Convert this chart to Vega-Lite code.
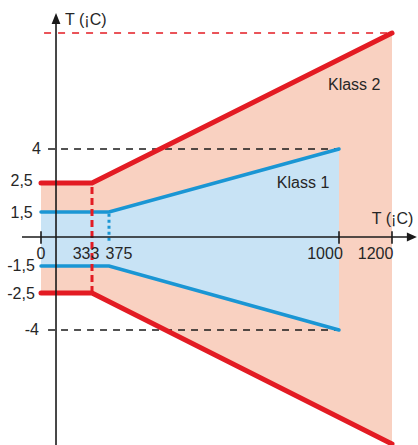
{
  "$schema": "https://vega.github.io/schema/vega-lite/v6.json",
  "width": 418,
  "height": 445,
  "autosize": {"type": "none"},
  "padding": 0,
  "background": "white",
  "config": {"view": {"stroke": null}},
  "datasets": {
    "bands": [
      {"cls": "Klass 2", "T": 0, "hi": 2.5, "lo": -2.5},
      {"cls": "Klass 2", "T": 333, "hi": 2.5, "lo": -2.5},
      {"cls": "Klass 2", "T": 1200, "hi": 9, "lo": -9},
      {"cls": "Klass 1", "T": 0, "hi": 1.5, "lo": -1.5},
      {"cls": "Klass 1", "T": 375, "hi": 1.5, "lo": -1.5},
      {"cls": "Klass 1", "T": 1000, "hi": 4, "lo": -4}
    ],
    "dash4": [{"T": 46, "T2": 1000, "v": 4}, {"T": 46, "T2": 1000, "v": -4}],
    "dash9": [{"T": 20, "T2": 1192, "v": 9}],
    "vred": [{"T": 333, "v": -2.5, "v2": 2.5}],
    "vblue": [{"T": 375, "v": -0.2, "v2": 1.5}],
    "axisH": [{"T": -120, "T2": 1262, "v": 0}],
    "axisV": [{"T": 98, "v": -10, "v2": 9.5}],
    "ticks": [
      {"T": 0, "v": -0.35, "v2": 0.35},
      {"T": 1000, "v": -0.35, "v2": 0.35},
      {"T": 1200, "v": -0.35, "v2": 0.35}
    ],
    "arrowUp": [{"T": 98, "v": 9.63}],
    "arrowRight": [{"T": 1275, "v": 0}],
    "ylabels": [
      {"text": "4", "T": 0, "v": 4},
      {"text": "2,5", "T": -52, "v": 2.6},
      {"text": "1,5", "T": -52, "v": 1.45},
      {"text": "-1,5", "T": -39, "v": -1.5},
      {"text": "-2,5", "T": -39, "v": -2.55},
      {"text": "-4", "T": -13, "v": -4}
    ],
    "xlabels": [
      {"text": "0", "T": 0, "v": -1.14},
      {"text": "333", "T": 294, "v": -1.14},
      {"text": "375", "T": 402, "v": -1.14},
      {"text": "1000", "T": 962, "v": -1.14},
      {"text": "1200", "T": 1138, "v": -1.14}
    ],
    "notes": [
      {"text": "T (¡C)", "T": 157, "v": 9.35},
      {"text": "T (¡C)", "T": 1124, "v": 0.78},
      {"text": "Klass 1", "T": 831, "v": 2.33},
      {"text": "Klass 2", "T": 970, "v": 6.54}
    ]
  },
  "encoding": {
    "x": {
      "field": "T",
      "type": "quantitative",
      "axis": null,
      "scale": {
        "type": "linear",
        "domain": [-120, 0, 333, 375, 1000, 1200, 1300],
        "range": [22, 41, 92, 109, 339, 392, 418.5],
        "nice": false,
        "zero": false
      }
    },
    "y": {
      "field": "v",
      "type": "quantitative",
      "axis": null,
      "scale": {
        "type": "linear",
        "domain": [-10, -9, -4, -2.5, -1.5, 0, 1.5, 2.5, 4, 9, 10],
        "range": [467, 444, 330, 293, 266, 237, 212, 183, 149, 33, 10],
        "nice": false,
        "zero": false
      }
    }
  },
  "layer": [
    {
      "data": {"name": "bands"},
      "transform": [{"filter": "datum.cls === 'Klass 2'"}],
      "mark": {"type": "area", "color": "#F9D1C1", "opacity": 1},
      "encoding": {"y": {"field": "hi", "type": "quantitative"}, "y2": {"field": "lo"}}
    },
    {
      "data": {"name": "bands"},
      "transform": [{"filter": "datum.cls === 'Klass 1'"}],
      "mark": {"type": "area", "color": "#C8E3F5", "opacity": 1},
      "encoding": {"y": {"field": "hi", "type": "quantitative"}, "y2": {"field": "lo"}}
    },
    {
      "data": {"name": "dash4"},
      "mark": {"type": "rule", "color": "#1a1a1a", "strokeWidth": 1.5, "strokeDash": [7, 6]},
      "encoding": {"x2": {"field": "T2"}}
    },
    {
      "data": {"name": "dash9"},
      "mark": {"type": "rule", "color": "#E31B23", "strokeWidth": 1.5, "strokeDash": [7, 7]},
      "encoding": {"x2": {"field": "T2"}}
    },
    {
      "data": {"name": "vblue"},
      "mark": {"type": "rule", "color": "#1A96D4", "strokeWidth": 3, "strokeDash": [3, 3]},
      "encoding": {"y2": {"field": "v2"}}
    },
    {
      "data": {"name": "bands"},
      "transform": [{"filter": "datum.cls === 'Klass 1'"}],
      "mark": {"type": "line", "color": "#1A96D4", "strokeWidth": 3.5, "strokeCap": "round"},
      "encoding": {"y": {"field": "hi", "type": "quantitative"}}
    },
    {
      "data": {"name": "bands"},
      "transform": [{"filter": "datum.cls === 'Klass 1'"}],
      "mark": {"type": "line", "color": "#1A96D4", "strokeWidth": 3.5, "strokeCap": "round"},
      "encoding": {"y": {"field": "lo", "type": "quantitative"}}
    },
    {
      "data": {"name": "vred"},
      "mark": {"type": "rule", "color": "#E31B23", "strokeWidth": 3, "strokeDash": [7, 4]},
      "encoding": {"y2": {"field": "v2"}}
    },
    {
      "data": {"name": "bands"},
      "transform": [{"filter": "datum.cls === 'Klass 2'"}],
      "mark": {"type": "line", "color": "#E31B23", "strokeWidth": 5, "strokeCap": "round"},
      "encoding": {"y": {"field": "hi", "type": "quantitative"}}
    },
    {
      "data": {"name": "bands"},
      "transform": [{"filter": "datum.cls === 'Klass 2'"}],
      "mark": {"type": "line", "color": "#E31B23", "strokeWidth": 5, "strokeCap": "round"},
      "encoding": {"y": {"field": "lo", "type": "quantitative"}}
    },
    {
      "data": {"name": "axisH"},
      "mark": {"type": "rule", "color": "#1a1a1a", "strokeWidth": 1.6},
      "encoding": {"x2": {"field": "T2"}}
    },
    {
      "data": {"name": "axisV"},
      "mark": {"type": "rule", "color": "#1a1a1a", "strokeWidth": 1.6},
      "encoding": {"y2": {"field": "v2"}}
    },
    {
      "data": {"name": "ticks"},
      "mark": {"type": "rule", "color": "#1a1a1a", "strokeWidth": 1.6},
      "encoding": {"y2": {"field": "v2"}}
    },
    {
      "data": {"name": "arrowUp"},
      "mark": {"type": "point", "filled": true, "color": "#1a1a1a", "opacity": 1, "strokeWidth": 0, "size": 121, "shape": "M0,-1L0.8,1L-0.8,1Z"}
    },
    {
      "data": {"name": "arrowRight"},
      "mark": {"type": "point", "filled": true, "color": "#1a1a1a", "opacity": 1, "strokeWidth": 0, "size": 100, "shape": "M1,0L-1,0.9L-1,-0.9Z"}
    },
    {
      "data": {"name": "ylabels"},
      "mark": {"type": "text", "font": "Liberation Sans", "fontSize": 16, "color": "#262626", "align": "right", "baseline": "middle"},
      "encoding": {"text": {"field": "text"}}
    },
    {
      "data": {"name": "xlabels"},
      "mark": {"type": "text", "font": "Liberation Sans", "fontSize": 16, "color": "#262626", "align": "center", "baseline": "alphabetic"},
      "encoding": {"text": {"field": "text"}}
    },
    {
      "data": {"name": "notes"},
      "mark": {"type": "text", "font": "Liberation Sans", "fontSize": 16, "color": "#262626", "align": "left", "baseline": "alphabetic"},
      "encoding": {"text": {"field": "text"}}
    }
  ]
}
